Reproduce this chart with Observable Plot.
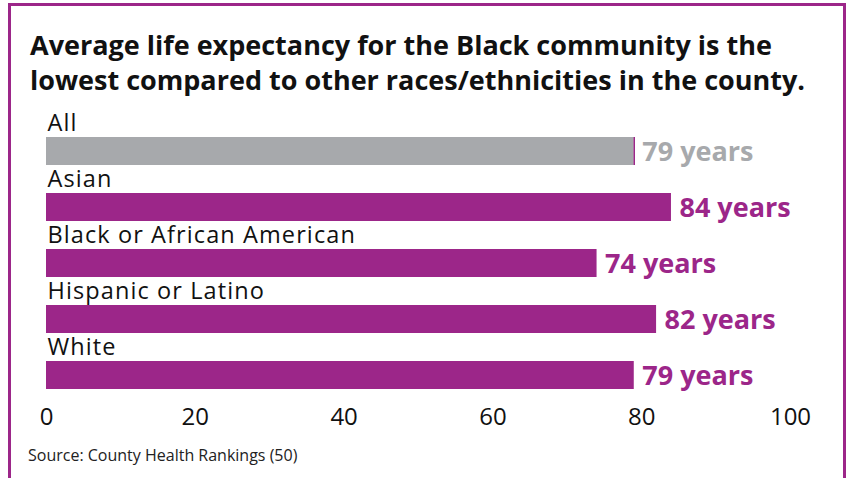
<!DOCTYPE html>
<html><head><meta charset="utf-8">
<script src="https://cdn.jsdelivr.net/npm/d3@7"></script>
<script src="https://cdn.jsdelivr.net/npm/@observablehq/plot@0.6"></script>
<style>
body{margin:0;background:#fff;}
#wrap{position:relative;width:847px;height:478px;overflow:hidden;font-family:"Open Sans",sans-serif;}
#frame{position:absolute;left:8px;top:3px;width:838px;height:520px;border:3.5px solid #9c2689;border-bottom:none;box-sizing:border-box;}
#title{position:absolute;left:30px;top:27px;font-weight:700;font-size:27px;line-height:35px;color:#111;margin:0;white-space:nowrap;}
#chart{position:absolute;left:0;top:100px;}
#source{position:absolute;left:28px;top:444px;font-size:16px;color:#222;white-space:nowrap;}
</style></head>
<body>
<div id="wrap">
  <div id="frame"></div>
  <div id="title">Average life expectancy for the Black community is the<br>lowest compared to other races/ethnicities in the county.</div>
  <div id="chart"></div>
  <div id="source">Source: County Health Rankings (50)</div>
</div>
<script>
const categories = ["All", "Asian", "Black or African American", "Hispanic or Latino", "White"];
const values = [79, 84, 74, 82, 79];
const xTicks = [0, 20, 40, 60, 80, 100];

const PURPLE = "#9c2689";
const GRAY = "#a7a9ac";
const data = categories.map((c, i) => ({category: c, value: values[i], group: c === "All" ? "all" : "group"}));

const chart = Plot.plot({
  width: 847, height: 340,
  marginLeft: 46, marginRight: 57, marginTop: 24, marginBottom: 37.5,
  style: {fontFamily: "'Open Sans', sans-serif", color: "#111", background: "transparent"},
  x: {domain: [0, 100], axis: null},
  y: {domain: categories, paddingInner: 0.508, paddingOuter: 0.2, axis: null},
  color: {domain: ["all", "group"], range: [GRAY, PURPLE]},
  marks: [
    Plot.barX(data, {x: "value", y: "category", fill: "group"}),
    Plot.tickX(data.filter(d => d.category === "All"), {x: "value", y: "category", stroke: PURPLE, strokeWidth: 1.5}),
    Plot.text(data, {x: 0, y: "category", text: "category", textAnchor: "start", lineAnchor: "bottom", dy: -21, dx: 1, fontSize: 23.5, fill: "#111"}),
    Plot.text(data, {x: "value", y: "category", text: d => d.value + " years", textAnchor: "start", dx: 8, dy: 1, fontSize: 27, fontWeight: 700, fill: "group"}),
    Plot.axisX({ticks: xTicks, tickSize: 0, tickPadding: 5, fontSize: 24, fill: "#111", label: null})
  ]
});
chart.querySelectorAll("[font-size='23.5']").forEach(g => {
  g.style.letterSpacing = "1.1px";
});
document.getElementById("chart").appendChild(chart);
</script>
</body></html>
